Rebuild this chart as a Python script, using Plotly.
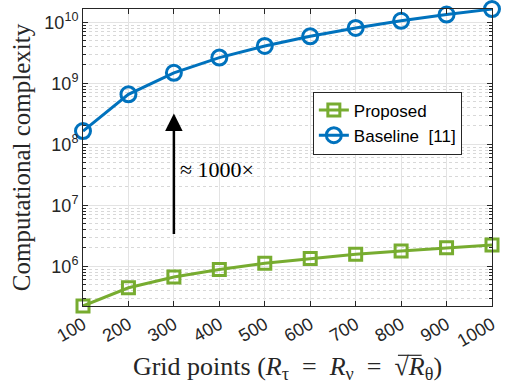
import numpy as np
import plotly.graph_objects as go

grid_points = [100, 200, 300, 400, 500, 600, 700, 800, 900, 1000]
proposed = [2.24e5, 4.45e5, 6.7e5, 8.9e5, 1.12e6, 1.34e6, 1.57e6, 1.79e6, 2.01e6, 2.24e6]
baseline = [1.65e8, 6.6e8, 1.49e9, 2.64e9, 4.1e9, 5.9e9, 8.1e9, 1.06e10, 1.34e10, 1.65e10]
y_tickvals = [1e6, 1e7, 1e8, 1e9, 1e10]
y_ticktext = ["10<sup>6</sup>", "10<sup>7</sup>", "10<sup>8</sup>", "10<sup>9</sup>", "10<sup>10</sup>"]

GREEN = "#77AC30"
BLUE = "#0072BD"
AX = "#262626"
SP = "\u2002"

fig = go.Figure()
fig.add_trace(go.Scatter(
    x=grid_points, y=proposed, name="Proposed", mode="lines+markers",
    line=dict(color=GREEN, width=3),
    marker=dict(symbol="square-open", size=12, color=GREEN, line=dict(width=3, color=GREEN)),
    cliponaxis=False))
fig.add_trace(go.Scatter(
    x=grid_points, y=baseline, name="Baseline  [11]", mode="lines+markers",
    line=dict(color=BLUE, width=3),
    marker=dict(symbol="circle-open", size=15, color=BLUE, line=dict(width=3, color=BLUE)),
    cliponaxis=False))

fig.add_annotation(x=300, y=np.log10(3.2e8), ax=300, ay=np.log10(3.2e6),
                   xref="x", yref="y", axref="x", ayref="y",
                   showarrow=True, arrowhead=2, arrowsize=1.4, arrowwidth=2.5,
                   arrowcolor="black", text="")
fig.add_annotation(x=308, y=np.log10(3.8e7), xref="x", yref="y", showarrow=False,
                   xanchor="left", text="≈ 1000×",
                   font=dict(family="Liberation Serif", size=22, color="black"))

title_x = ("Grid points (<i>R</i><sub>τ</sub>" + SP + "=" + SP + "<i>R</i><sub>ν</sub>"
           + SP + "=" + SP + "√<i>R</i><sub>θ</sub>)")

# overline of the square root sign in the x-axis title
fig.add_shape(type="line", xref="paper", yref="paper",
              x0=0.770, x1=0.828, y0=-0.166, y1=-0.166,
              line=dict(color=AX, width=1.2))

fig.update_layout(
    width=507, height=386,
    margin=dict(l=83, r=11, t=8, b=80),
    plot_bgcolor="white", paper_bgcolor="white",
    font=dict(family="Liberation Sans, Arial", size=18, color=AX),
    showlegend=True,
    legend=dict(x=0.562, y=0.722, xanchor="left", yanchor="top",
                bgcolor="white", bordercolor=AX, borderwidth=1,
                font=dict(size=17, color="black"), tracegroupgap=0,
                itemwidth=30),
)
fig.update_xaxes(
    range=[100, 1000], tickvals=grid_points, tickangle=-30,
    showline=True, linecolor=AX, linewidth=1, mirror="allticks",
    ticks="inside", ticklen=5, tickcolor=AX,
    showgrid=True, gridcolor="#e3e3e3", gridwidth=1, zeroline=False,
    title=dict(text=title_x,
               font=dict(family="Liberation Serif", size=26, color=AX), standoff=6),
)
fig.update_yaxes(
    type="log", range=[np.log10(2.235e5), np.log10(1.655e10)],
    tickvals=y_tickvals, ticktext=y_ticktext,
    showline=True, linecolor=AX, linewidth=1, mirror="allticks",
    ticks="inside", ticklen=5, tickcolor=AX,
    showgrid=True, gridcolor="#e3e3e3", gridwidth=1, zeroline=False,
    minor=dict(dtick="D1", ticks="inside", ticklen=3, tickcolor=AX,
               showgrid=True, gridcolor="#d8d8d8", griddash="dot", gridwidth=1),
    title=dict(text="Computational complexity",
               font=dict(family="Liberation Serif", size=25, color=AX), standoff=6),
)
fig.write_html("out.html")
